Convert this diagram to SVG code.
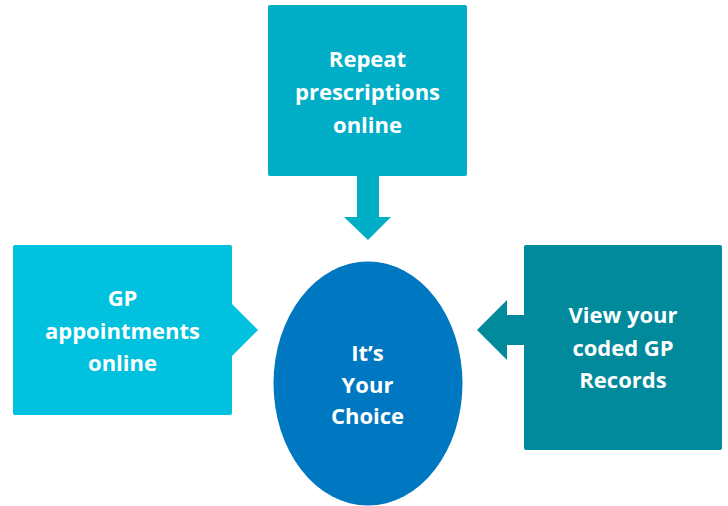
<svg xmlns="http://www.w3.org/2000/svg" width="728" height="506" viewBox="0 0 728 506">
<style>
.lbl{font-family:"Open Sans","Liberation Sans",sans-serif;font-weight:bold;font-size:22px;fill:#ffffff;text-anchor:middle}
</style>
<rect width="728" height="506" fill="#ffffff"/>
<g id="connectors">
<path d="M357,175 L379,175 L379,217 L391,217 L368,240 L344,217 L357,217 Z" fill="#00AEC7"/>
<path d="M231,303 L258,330 L231,357 Z" fill="#00C1DE"/>
<path d="M525,315 L507,315 L507,300 L477,330 L507,360 L507,345 L525,345 Z" fill="#008A9C"/>
</g>
<g id="top">
<rect x="268" y="5" width="199" height="171" rx="2" fill="#00AEC7"/>
<text class="lbl" x="367.5" y="67">Repeat</text>
<text class="lbl" x="367.5" y="100">prescriptions</text>
<text class="lbl" x="367.5" y="133">online</text>
</g>
<g id="left">
<rect x="13" y="245" width="219" height="170" rx="2" fill="#00C1DE"/>
<text class="lbl" x="122.5" y="306">GP</text>
<text class="lbl" x="122.5" y="339">appointments</text>
<text class="lbl" x="122.5" y="371">online</text>
</g>
<g id="right">
<rect x="524" y="245" width="198" height="205" rx="2" fill="#008A9C"/>
<text class="lbl" x="623" y="323">View your</text>
<text class="lbl" x="623" y="356">coded GP</text>
<text class="lbl" x="623" y="388">Records</text>
</g>
<g id="center">
<ellipse cx="368" cy="383.5" rx="94.5" ry="122" fill="#0078C1"/>
<text class="lbl" x="367.5" y="361">It’s</text>
<text class="lbl" x="367.5" y="393">Your</text>
<text class="lbl" x="367.5" y="424">Choice</text>
</g>
</svg>
